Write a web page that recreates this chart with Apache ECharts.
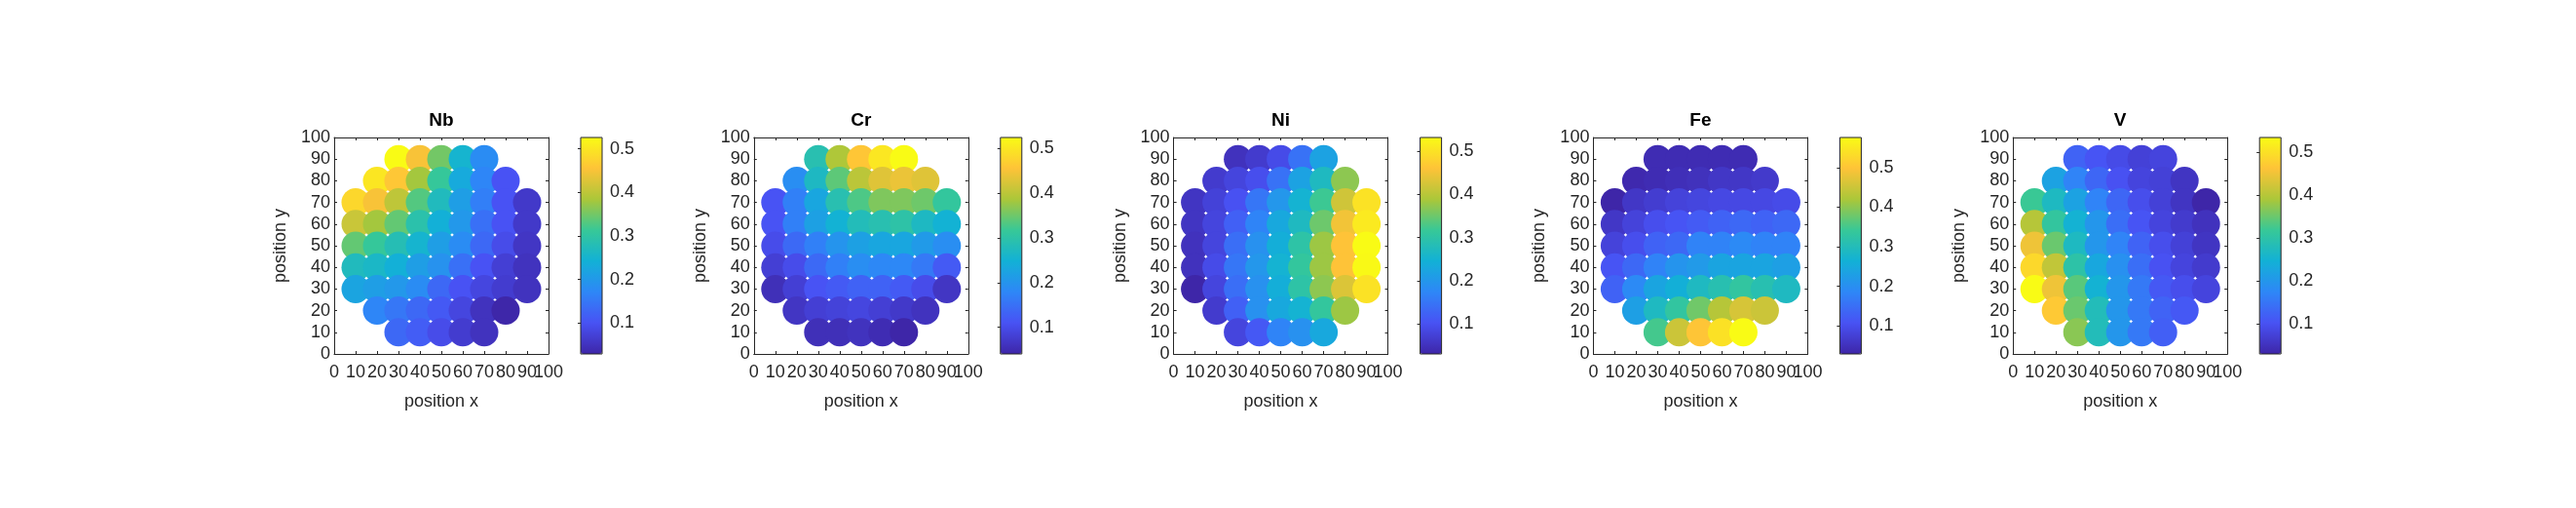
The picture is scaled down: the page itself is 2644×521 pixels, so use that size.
<!DOCTYPE html>
<html>
<head>
<meta charset="utf-8">
<script src="https://cdn.jsdelivr.net/npm/echarts@6/dist/echarts.min.js"></script>
<style>
  html, body { margin: 0; padding: 0; background: #fff; }
  #main { width: 2644px; height: 521px; }
</style>
</head>
<body>
<div id="main"></div>
<script>
// grid rows, from top (y=90) to bottom (y=10)
var rowY = [90, 80, 70, 60, 50, 40, 30, 20, 10];
var rowX = [
    [30, 40, 50, 60, 70],
    [20, 30, 40, 50, 60, 70, 80],
    [10, 20, 30, 40, 50, 60, 70, 80, 90],
    [10, 20, 30, 40, 50, 60, 70, 80, 90],
    [10, 20, 30, 40, 50, 60, 70, 80, 90],
    [10, 20, 30, 40, 50, 60, 70, 80, 90],
    [10, 20, 30, 40, 50, 60, 70, 80, 90],
    [20, 30, 40, 50, 60, 70, 80],
    [30, 40, 50, 60, 70]
];

var elements = ['Nb', 'Cr', 'Ni', 'Fe', 'V'];

var nbVals = [
    [0.526, 0.45, 0.35, 0.25, 0.18],
    [0.50, 0.46, 0.38, 0.31, 0.23, 0.17, 0.10],
    [0.48, 0.45, 0.40, 0.33, 0.27, 0.21, 0.16, 0.10, 0.06],
    [0.41, 0.38, 0.34, 0.29, 0.24, 0.20, 0.14, 0.10, 0.06],
    [0.34, 0.31, 0.28, 0.25, 0.21, 0.18, 0.13, 0.09, 0.055],
    [0.27, 0.26, 0.24, 0.21, 0.19, 0.14, 0.10, 0.07, 0.05],
    [0.22, 0.21, 0.20, 0.18, 0.13, 0.10, 0.08, 0.065, 0.05],
    [0.17, 0.15, 0.13, 0.11, 0.08, 0.05, 0.03],
    [0.13, 0.115, 0.09, 0.065, 0.05]
];
var crVals = [
    [0.29, 0.39, 0.46, 0.50, 0.525],
    [0.19, 0.27, 0.34, 0.40, 0.43, 0.44, 0.43],
    [0.11, 0.17, 0.23, 0.29, 0.33, 0.36, 0.36, 0.35, 0.31],
    [0.11, 0.17, 0.22, 0.25, 0.28, 0.29, 0.30, 0.27, 0.25],
    [0.10, 0.14, 0.17, 0.20, 0.22, 0.23, 0.23, 0.21, 0.19],
    [0.08, 0.10, 0.14, 0.17, 0.19, 0.18, 0.18, 0.16, 0.12],
    [0.055, 0.08, 0.11, 0.12, 0.13, 0.13, 0.12, 0.10, 0.065],
    [0.065, 0.08, 0.085, 0.09, 0.08, 0.07, 0.06],
    [0.055, 0.055, 0.06, 0.05, 0.04]
];
var niVals = [
    [0.05, 0.065, 0.09, 0.145, 0.22],
    [0.065, 0.08, 0.095, 0.145, 0.22, 0.27, 0.37],
    [0.055, 0.075, 0.10, 0.15, 0.20, 0.25, 0.32, 0.42, 0.50],
    [0.055, 0.08, 0.12, 0.17, 0.23, 0.27, 0.35, 0.45, 0.51],
    [0.05, 0.08, 0.14, 0.19, 0.24, 0.30, 0.38, 0.46, 0.532],
    [0.05, 0.09, 0.15, 0.20, 0.25, 0.31, 0.38, 0.46, 0.53],
    [0.03, 0.08, 0.14, 0.19, 0.24, 0.30, 0.37, 0.43, 0.50],
    [0.065, 0.12, 0.19, 0.23, 0.25, 0.31, 0.38],
    [0.08, 0.11, 0.17, 0.19, 0.23]
];
var feVals = [
    [0.04, 0.04, 0.04, 0.04, 0.04],
    [0.035, 0.04, 0.045, 0.05, 0.06, 0.06, 0.065],
    [0.029, 0.06, 0.07, 0.08, 0.085, 0.09, 0.09, 0.09, 0.095],
    [0.06, 0.08, 0.10, 0.11, 0.12, 0.13, 0.14, 0.13, 0.14],
    [0.08, 0.10, 0.13, 0.14, 0.18, 0.18, 0.19, 0.18, 0.18],
    [0.11, 0.14, 0.18, 0.21, 0.22, 0.24, 0.24, 0.24, 0.23],
    [0.13, 0.19, 0.24, 0.26, 0.29, 0.31, 0.33, 0.31, 0.29],
    [0.23, 0.29, 0.33, 0.38, 0.43, 0.46, 0.45],
    [0.35, 0.45, 0.50, 0.54, 0.576]
];
var vVals = [
    [0.125, 0.105, 0.09, 0.075, 0.08],
    [0.22, 0.17, 0.13, 0.10, 0.08, 0.075, 0.055],
    [0.32, 0.27, 0.22, 0.17, 0.13, 0.095, 0.075, 0.055, 0.03],
    [0.40, 0.31, 0.25, 0.20, 0.14, 0.105, 0.08, 0.065, 0.05],
    [0.45, 0.35, 0.27, 0.20, 0.17, 0.125, 0.095, 0.075, 0.055],
    [0.49, 0.41, 0.30, 0.23, 0.19, 0.14, 0.10, 0.08, 0.065],
    [0.535, 0.45, 0.34, 0.25, 0.20, 0.155, 0.11, 0.095, 0.08],
    [0.47, 0.35, 0.28, 0.20, 0.155, 0.125, 0.11],
    [0.37, 0.28, 0.20, 0.155, 0.12]
];
var allVals = [nbVals, crVals, niVals, feVals, vVals];

// colorbar limits
var cbMin = [0.029, 0.040, 0.030, 0.029, 0.030];
var cbMax = [0.526, 0.525, 0.532, 0.576, 0.535];

// parula
var parula = ['#3e26a8', '#4852f4', '#2e87f7', '#12b1d6', '#37c897', '#abc739', '#fec338', '#f9fb15'];

var myChart = echarts.init(document.getElementById('main'));

var FONT = "'Liberation Sans', Arial, sans-serif";
var AXC = '#262626';

var grids = [], xAxes = [], yAxes = [], series = [], visualMaps = [], titles = [];

for (var i = 0; i < elements.length; i++) {
    var left = 343 + 430.8 * i;
    var cbLeft = left + 253;

    grids.push({ left: left, top: 141, width: 220, height: 222 });
    grids.push({
        left: cbLeft, top: 141, width: 22, height: 222,
        show: true, borderColor: AXC, borderWidth: 1, backgroundColor: 'transparent', z: 10
    });

    // x axes: bottom (0..90 labels), top mirror, bottom "100" only, colorbar dummy
    xAxes.push({
        gridIndex: 2 * i, type: 'value', min: 0, max: 100, interval: 10, position: 'bottom',
        axisLine: { show: true, onZero: false, lineStyle: { color: AXC } },
        axisTick: { show: true, inside: true, length: 3, lineStyle: { color: AXC } },
        axisLabel: {
            fontSize: 18, color: AXC, fontFamily: FONT, margin: 10,
            showMinLabel: true, showMaxLabel: false
        },
        splitLine: { show: false },
        name: 'position x', nameLocation: 'middle', nameGap: 40,
        nameTextStyle: { fontSize: 18, color: AXC, fontFamily: FONT }
    });
    xAxes.push({
        gridIndex: 2 * i, type: 'value', min: 0, max: 100, interval: 10, position: 'top',
        axisLine: { show: true, onZero: false, lineStyle: { color: AXC } },
        axisTick: { show: true, inside: true, length: 3, lineStyle: { color: AXC } },
        axisLabel: { show: false }, splitLine: { show: false }
    });
    xAxes.push({
        gridIndex: 2 * i, type: 'value', min: 0, max: 100, interval: 100, position: 'bottom',
        axisLine: { show: false, onZero: false }, axisTick: { show: false },
        axisLabel: {
            fontSize: 18, color: AXC, fontFamily: FONT, margin: 10,
            showMinLabel: false, showMaxLabel: true
        },
        splitLine: { show: false }
    });
    xAxes.push({ gridIndex: 2 * i + 1, type: 'value', show: false, min: 0, max: 1 });

    yAxes.push({
        gridIndex: 2 * i, type: 'value', min: 0, max: 100, interval: 10, position: 'left',
        axisLine: { show: true, onZero: false, lineStyle: { color: AXC } },
        axisTick: { show: true, inside: true, length: 3, lineStyle: { color: AXC } },
        axisLabel: {
            fontSize: 18, color: AXC, fontFamily: FONT, margin: 4,
            showMinLabel: true, showMaxLabel: true
        },
        splitLine: { show: false },
        name: 'position y', nameLocation: 'middle', nameGap: 46, nameRotate: 90,
        nameTextStyle: { fontSize: 18, color: AXC, fontFamily: FONT }
    });
    yAxes.push({
        gridIndex: 2 * i, type: 'value', min: 0, max: 100, interval: 10, position: 'right',
        axisLine: { show: true, onZero: false, lineStyle: { color: AXC } },
        axisTick: { show: true, inside: true, length: 3, lineStyle: { color: AXC } },
        axisLabel: { show: false }, splitLine: { show: false }
    });
    yAxes.push({
        gridIndex: 2 * i + 1, type: 'value', min: cbMin[i], max: cbMax[i], splitNumber: 5,
        position: 'right', z: 10,
        axisLine: { show: false },
        axisTick: { show: true, inside: true, length: 3, lineStyle: { color: AXC } },
        axisLabel: {
            fontSize: 18, color: AXC, fontFamily: FONT, margin: 8,
            showMinLabel: false, showMaxLabel: false
        },
        splitLine: { show: false }
    });

    var data = [];
    for (var r = 0; r < rowY.length; r++) {
        for (var c = 0; c < rowX[r].length; c++) {
            data.push([rowX[r][c], rowY[r], allVals[i][r][c]]);
        }
    }
    series.push({
        name: elements[i], type: 'scatter', xAxisIndex: 4 * i, yAxisIndex: 3 * i,
        symbol: 'circle', symbolSize: 29, data: data,
        itemStyle: { opacity: 1 }, silent: true
    });

    visualMaps.push({
        type: 'continuous', seriesIndex: i, dimension: 2,
        min: cbMin[i], max: cbMax[i], calculable: false, orient: 'vertical',
        left: cbLeft, top: 141, itemWidth: 22, itemHeight: 222, padding: 0,
        text: null, inRange: { color: parula }, hoverLink: false
    });

    titles.push({
        text: elements[i], left: left + 110, top: 114, textAlign: 'center', padding: 0,
        textStyle: { fontSize: 19, fontWeight: 'bold', color: '#000', fontFamily: FONT }
    });
}

myChart.setOption({
    animation: false,
    backgroundColor: '#fff',
    title: titles,
    grid: grids,
    xAxis: xAxes,
    yAxis: yAxes,
    visualMap: visualMaps,
    series: series
});
</script>
</body>
</html>
